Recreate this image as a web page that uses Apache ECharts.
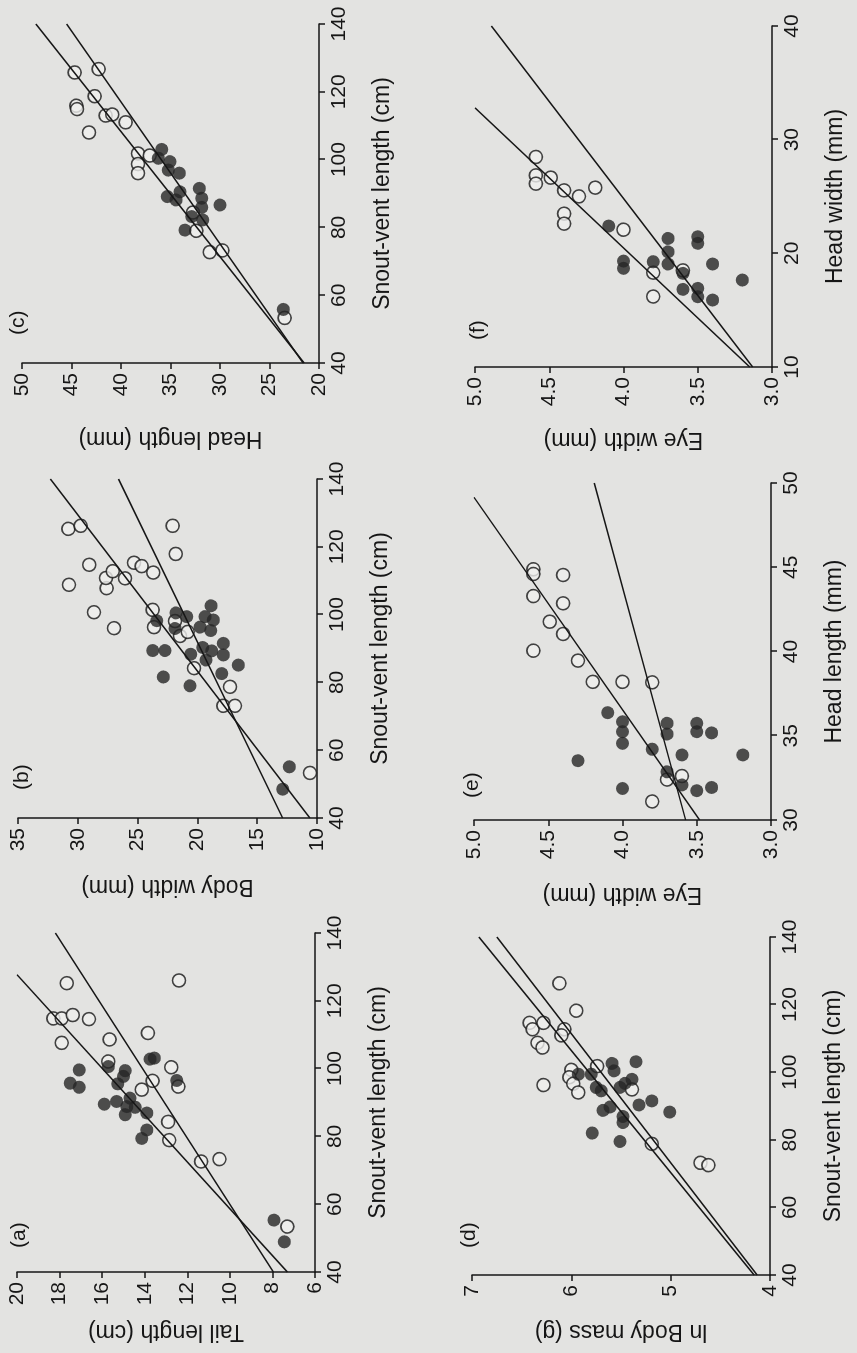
<!DOCTYPE html>
<html>
<head>
<meta charset="utf-8">
<title>Body proportions</title>
<script src="https://cdn.jsdelivr.net/npm/echarts@6/dist/echarts.min.js"></script>
<style>
    html, body { margin: 0; padding: 0; width: 857px; height: 1353px; overflow: hidden; background: #e3e3e1; }
    /* the printed figure lies on its side: draw it landscape, then turn it a quarter left */
    #main {
        position: absolute; left: 0; top: 0;
        width: 1353px; height: 857px;
        transform-origin: 0 0;
        transform: translate(0, 1353px) rotate(-90deg);
    }
</style>
</head>
<body>
<div id="main"></div>
<script>
// (a) tail length vs snout-vent length, [svl cm, tail cm]
var tailOpen = [[114.8, 18.29], [114.8, 17.9], [107.6, 17.9], [125.2, 17.66], [115.8, 17.38], [114.6, 16.62],
    [108.6, 15.65], [102.1, 15.71], [110.5, 13.85], [126.0, 12.39], [100.4, 12.75], [94.7, 12.42],
    [96.4, 13.63], [93.8, 14.14], [84.3, 12.9], [78.9, 12.85], [72.6, 11.35], [73.3, 10.49], [53.4, 7.3]];
var tailFilled = [[99.6, 17.08], [95.7, 17.5], [94.5, 17.08], [100.6, 15.71], [99.4, 14.92], [97.7, 15.0],
    [95.5, 15.27], [89.5, 15.9], [90.3, 15.32], [91.3, 14.69], [88.8, 14.84], [88.6, 14.45], [86.4, 14.92],
    [86.9, 13.9], [81.9, 13.9], [79.4, 14.14], [102.8, 13.75], [103.1, 13.55], [96.5, 12.5],
    [55.3, 7.93], [48.9, 7.44]];
var tailFits = [[[40, 7.3], [127.7, 20]], [[40, 7.96], [140, 18.2]]];

// (b) body width vs snout-vent length, [svl cm, width mm]
var bodyOpen = [[125.3, 30.79], [126.2, 29.76], [114.7, 29.04], [108.8, 30.74], [100.7, 28.65], [96.0, 26.97],
    [107.8, 27.59], [110.8, 27.64], [112.8, 27.08], [126.2, 22.07], [53.3, 10.59],
    [117.9, 21.81], [115.3, 25.3], [114.3, 24.66], [112.4, 23.69], [110.7, 26.05], [101.4, 23.74],
    [96.3, 23.63], [98.1, 21.87], [93.7, 21.45], [94.9, 20.81], [84.2, 20.28], [78.7, 17.27],
    [73.1, 17.83], [73.1, 16.86]];
var bodyFilled = [[102.6, 18.86], [100.5, 21.79], [99.4, 20.9], [98.2, 23.4], [99.4, 19.36], [98.4, 18.67],
    [96.3, 19.78], [95.3, 18.89], [95.9, 21.87], [89.4, 23.74], [89.4, 22.71], [88.3, 20.56], [90.3, 19.56],
    [89.3, 18.81], [91.5, 17.83], [88.1, 17.83], [86.6, 19.28], [85.1, 16.58], [82.6, 17.97], [81.6, 22.85],
    [79.0, 20.62], [48.5, 12.87], [55.1, 12.31]];
var bodyFits = [[[40, 10.59], [140, 32.3]], [[40, 12.87], [140, 26.6]]];

// (c) head length vs snout-vent length, [svl cm, head mm]
var headOpen = [[125.7, 44.68], [126.7, 42.26], [118.7, 42.66], [115.9, 44.51], [114.9, 44.44], [108.0, 43.23],
    [113.0, 41.55], [113.3, 40.88], [111.0, 39.53], [101.8, 38.28], [98.7, 38.28], [96.0, 38.28],
    [101.2, 37.1], [84.4, 32.73], [79.0, 32.39], [72.7, 31.04], [73.2, 29.76], [53.3, 23.47]];
var headFilled = [[103.0, 35.89], [100.4, 36.23], [99.4, 35.05], [96.9, 35.22], [96.0, 34.11], [89.1, 35.32],
    [90.5, 34.04], [88.1, 34.44], [91.5, 32.09], [88.6, 31.85], [85.9, 31.85], [86.6, 30.0], [83.2, 32.86],
    [82.2, 31.75], [79.2, 33.54], [55.8, 23.6]];
var headFits = [[[40, 21.5], [140, 48.6]], [[40, 21.6], [140, 45.5]]];

// (d) ln body mass vs snout-vent length, [svl cm, ln g]
var massOpen = [[118.2, 5.95], [114.6, 6.42], [112.7, 6.39], [114.6, 6.28], [112.7, 6.07], [110.9, 6.1],
    [108.7, 6.34], [107.3, 6.29], [101.8, 5.74], [100.7, 6.0], [98.5, 6.02], [96.6, 5.98], [94.0, 5.93],
    [96.2, 6.28], [94.9, 5.39], [78.8, 5.19], [126.3, 6.12], [73.2, 4.7], [72.5, 4.62]];
var massFilled = [[103.1, 5.35], [102.6, 5.59], [100.4, 5.57], [99.4, 5.93], [99.4, 5.8], [95.5, 5.75],
    [94.5, 5.7], [95.5, 5.51], [96.7, 5.46], [97.9, 5.39], [90.3, 5.32], [91.5, 5.19], [88.2, 5.01],
    [88.7, 5.68], [89.7, 5.61], [86.9, 5.48], [85.1, 5.48], [82.0, 5.79], [79.5, 5.51]];
var massFits = [[[40, 4.16], [140, 6.93]], [[40, 4.13], [140, 6.75]]];

// (e) eye width vs head length, [head mm, eye mm]
var eyeHeadOpen = [[44.88, 4.6], [44.6, 4.6], [44.54, 4.4], [43.29, 4.6], [42.86, 4.4], [41.77, 4.49],
    [41.04, 4.4], [40.05, 4.6], [39.46, 4.3], [38.2, 4.2], [38.2, 4.0], [38.17, 3.8], [31.1, 3.8],
    [32.4, 3.7], [32.61, 3.6]];
var eyeHeadFilled = [[36.37, 4.1], [35.83, 4.0], [35.24, 4.0], [34.55, 4.0], [33.52, 4.3], [34.2, 3.8],
    [35.74, 3.7], [35.1, 3.7], [35.74, 3.5], [35.24, 3.5], [35.17, 3.4], [33.86, 3.6], [33.86, 3.19],
    [32.86, 3.7], [32.08, 3.6], [31.74, 3.5], [31.93, 3.4], [31.87, 4.0]];
var eyeHeadFits = [[[30, 3.48], [49.15, 5.0]], [[30, 3.575], [50, 4.19]]];

// (f) eye width vs head width, [head width mm, eye mm]
var eyeWidthOpen = [[28.48, 4.59], [26.86, 4.59], [26.13, 4.59], [26.66, 4.49], [25.54, 4.4], [25.01, 4.3],
    [25.78, 4.19], [23.49, 4.4], [22.61, 4.4], [22.08, 4.0], [18.3, 3.8], [16.2, 3.8], [18.5, 3.6]];
var eyeWidthFilled = [[22.4, 4.1], [19.32, 4.0], [18.68, 4.0], [19.26, 3.8], [21.31, 3.7], [20.13, 3.7],
    [19.06, 3.7], [21.46, 3.5], [20.88, 3.5], [18.24, 3.6], [16.83, 3.6], [16.92, 3.5], [16.18, 3.5],
    [15.89, 3.4], [19.06, 3.4], [17.65, 3.2]];
var eyeWidthFits = [[[10, 3.15], [32.8, 5.0]], [[10, 3.13], [40, 4.89]]];

var FONT = "'Liberation Sans', Arial, Helvetica, sans-serif";
var INK = '#161616';
var svlAxis = { name: 'Snout-vent length (cm)', min: 40, max: 140, interval: 20 };

var panels = [
    { tag: '(a)', open: tailOpen, filled: tailFilled, fits: tailFits, x: svlAxis,
      y: { name: 'Tail length (cm)', min: 6, max: 20, interval: 2, gap: 48 },
      grid: { left: 81, top: 17, width: 339, height: 298 }, tagAt: [105, 9] },
    { tag: '(b)', open: bodyOpen, filled: bodyFilled, fits: bodyFits, x: svlAxis,
      y: { name: 'Body width (mm)', min: 10, max: 35, interval: 5, gap: 57 },
      grid: { left: 535, top: 18, width: 339, height: 299 }, tagAt: [563, 12] },
    { tag: '(c)', open: headOpen, filled: headFilled, fits: headFits, x: svlAxis,
      y: { name: 'Head length (mm)', min: 20, max: 50, interval: 5, gap: 64 },
      grid: { left: 990, top: 22, width: 339, height: 297 }, tagAt: [1018, 8] },
    { tag: '(d)', open: massOpen, filled: massFilled, fits: massFits, x: svlAxis,
      y: { name: 'ln Body mass (g)', min: 4, max: 7, interval: 1, gap: 45 },
      grid: { left: 78, top: 472, width: 338, height: 298 }, tagAt: [105, 459] },
    { tag: '(e)', open: eyeHeadOpen, filled: eyeHeadFilled, fits: eyeHeadFits,
      x: { name: 'Head length (mm)', min: 30, max: 50, interval: 5 },
      y: { name: 'Eye width (mm)', min: 3, max: 5, interval: 0.5, gap: 63, digits: 1 },
      grid: { left: 533, top: 474, width: 337, height: 297 }, tagAt: [555, 462] },
    { tag: '(f)', open: eyeWidthOpen, filled: eyeWidthFilled, fits: eyeWidthFits,
      x: { name: 'Head width (mm)', min: 10, max: 40, interval: 10 },
      y: { name: 'Eye width (mm)', min: 3, max: 5, interval: 0.5, gap: 61, digits: 1 },
      grid: { left: 986, top: 475, width: 341, height: 297 }, tagAt: [1013, 468] }
];

function makeAxis(a, i, pos, gap) {
    return {
        type: 'value', gridIndex: i, position: pos,
        min: a.min, max: a.max, interval: a.interval,
        name: a.name, nameLocation: 'middle', nameGap: gap,
        nameTextStyle: { fontFamily: FONT, fontSize: 23, color: INK },
        axisLine: { show: true, onZero: false, lineStyle: { color: INK, width: 1.5 } },
        axisTick: { show: true, inside: false, length: 6, lineStyle: { color: INK, width: 1.5 } },
        axisLabel: {
            show: true, margin: 10, fontFamily: FONT, fontSize: 21, color: INK,
            showMinLabel: true, showMaxLabel: true,
            formatter: a.digits ? function (v) { return v.toFixed(a.digits); } : '{value}'
        },
        splitLine: { show: false }
    };
}

var option = {
    backgroundColor: '#e3e3e1',
    animation: false,
    grid: [], xAxis: [], yAxis: [], series: [], graphic: []
};

panels.forEach(function (p, i) {
    option.grid.push(Object.assign({ containLabel: false, outerBoundsMode: 'none' }, p.grid));
    option.xAxis.push(makeAxis(p.x, i, 'bottom', 52));
    option.yAxis.push(makeAxis(p.y, i, 'left', p.y.gap));

    option.series.push({
        type: 'scatter', xAxisIndex: i, yAxisIndex: i, data: p.open,
        symbol: 'circle', symbolSize: 13, z: 2, silent: true,
        itemStyle: { color: '#efefed', borderColor: INK, borderWidth: 1.6 }
    });
    option.series.push({
        type: 'scatter', xAxisIndex: i, yAxisIndex: i, data: p.filled,
        symbol: 'circle', symbolSize: 13, z: 3, silent: true,
        itemStyle: { color: '#262626' }
    });
    p.fits.forEach(function (f) {
        option.series.push({
            type: 'line', xAxisIndex: i, yAxisIndex: i, data: f,
            symbol: 'none', z: 4, silent: true,
            lineStyle: { color: INK, width: 1.5 }
        });
    });

    option.graphic.push({
        type: 'text', left: p.tagAt[0], top: p.tagAt[1],
        style: { text: p.tag, fontFamily: FONT, fontSize: 21, fill: INK }
    });
});

var myChart = echarts.init(document.getElementById('main'));
myChart.setOption(option);
</script>
</body>
</html>
